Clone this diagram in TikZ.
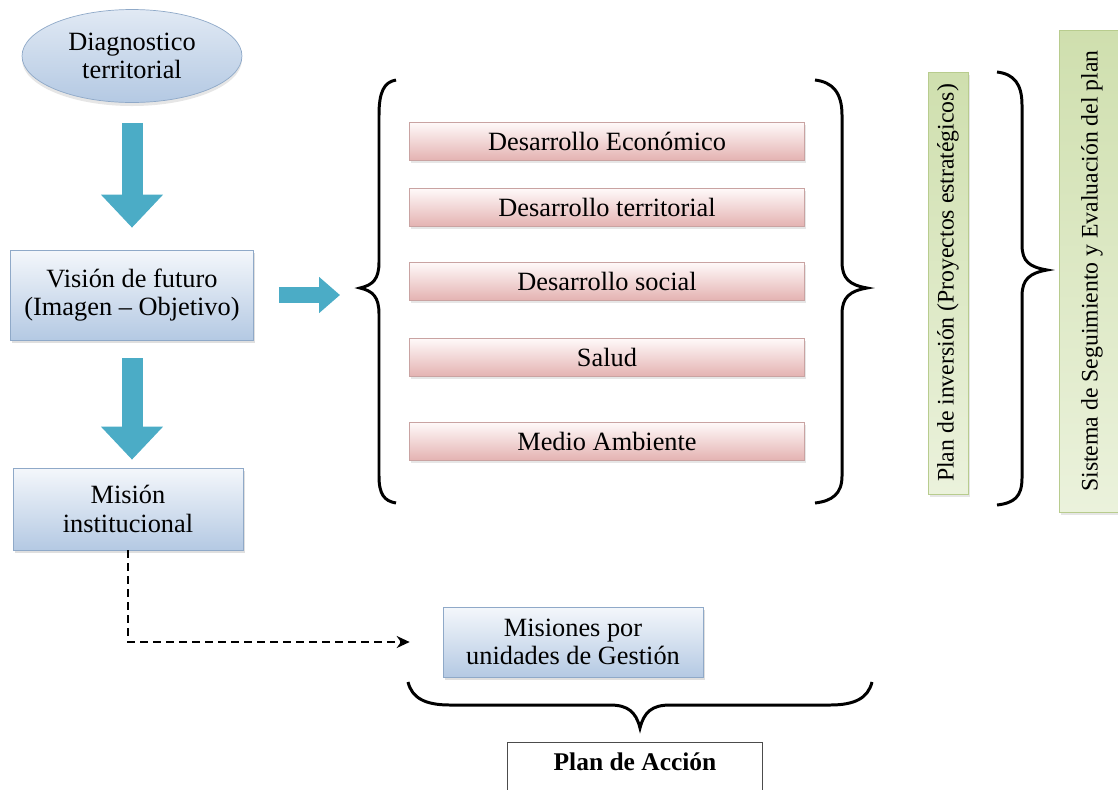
\documentclass[tikz,border=0pt]{standalone}
\usepackage{fontspec}
\setmainfont{Liberation Serif}
\usepackage{xcolor}
\usepackage{tikz}
\usetikzlibrary{shapes.geometric, arrows.meta, shadows}

\definecolor{arrowteal}{HTML}{4BACC6}
\definecolor{blueTop}{HTML}{F4F7FB}
\definecolor{blueBottom}{HTML}{B4C9E3}
\definecolor{blueEdge}{HTML}{8FA9C8}
\definecolor{redTop}{HTML}{FFFAFA}
\definecolor{redBottom}{HTML}{E4B3B2}
\definecolor{redEdge}{HTML}{C9A3A2}
\definecolor{greenDark}{HTML}{CFDFAE}
\definecolor{greenLight}{HTML}{EBF2DC}
\definecolor{greenEdge}{HTML}{B8CC8E}

\begin{document}
\begin{tikzpicture}[x=0.02cm, y=-0.02cm, >=Stealth]
    % Styles
    \tikzstyle{bluebox} = [rectangle, draw=blueEdge, top color=blueTop, bottom color=blueBottom, align=center, inner sep=0pt, font=\fontsize{15}{16}\selectfont, drop shadow={shadow xshift=1pt, shadow yshift=-1.5pt, opacity=0.25}]
    \tikzstyle{cloud} = [ellipse, draw=blueEdge, top color=blueTop!70!blueBottom, bottom color=blueBottom, align=center, inner sep=0pt, minimum width=4.4cm, minimum height=1.86cm, font=\fontsize{15}{16}\selectfont, drop shadow={shadow xshift=0pt, shadow yshift=-2pt, opacity=0.2}]
    \tikzstyle{redbox} = [rectangle, draw=redEdge, top color=redTop, bottom color=redBottom, inner sep=0pt, minimum width=7.9cm, minimum height=0.76cm, font=\fontsize{15}{16}\selectfont, drop shadow={shadow xshift=1pt, shadow yshift=-1.5pt, opacity=0.2}]
    \tikzstyle{greenbox} = [rectangle, draw=greenEdge, top color=greenDark, bottom color=greenLight, rotate=90, inner sep=0pt, font=\fontsize{13.5}{15}\selectfont, drop shadow={shadow xshift=1pt, shadow yshift=-1.5pt, opacity=0.2}]
    \tikzstyle{planbox} = [rectangle, draw=black!70, fill=white, minimum width=5.1cm, text height=0.46cm, text depth=1cm, inner ysep=0.1cm, font=\fontsize{14.5}{16}\selectfont]
    \tikzstyle{bigarrow} = [draw=arrowteal, line width=0.42cm, -{Triangle[length=0.66cm, width=1.2cm]}]
    \tikzstyle{dashline} = [draw, line width=1.2pt, dash pattern=on 0.16cm off 0.1cm, -{Stealth[length=0.26cm, width=0.24cm]}]
    \tikzstyle{curly} = [draw, line width=1.7pt]

    \useasboundingbox (0,0) rectangle (1118,789);

    % Nodes
    \node [cloud] (diag) at (132,56) {Diagnostico\\territorial};
    \node [bluebox, minimum width=4.86cm, minimum height=1.8cm] (vision) at (132,295) {Visión de futuro\\(Imagen – Objetivo)};
    \node [bluebox, minimum width=4.6cm, minimum height=1.64cm] (mision) at (128,509) {Misión\\institucional};
    \node [redbox] (economico) at (607,141) {Desarrollo Económico};
    \node [redbox] (territorial) at (607,207) {Desarrollo territorial};
    \node [redbox] (social) at (607,281) {Desarrollo social};
    \node [redbox] (salud) at (607,357) {Salud};
    \node [redbox] (ambiente) at (607,441) {Medio Ambiente};
    \node [greenbox, minimum width=8.44cm, minimum height=0.8cm] (inversion) at (948,283) {Plan de inversión (Proyectos estratégicos)};
    \node [greenbox, minimum width=9.64cm, minimum height=1.3cm] (seguimiento) at (1092,271) {Sistema de Seguimiento y Evaluación del plan};
    \node [bluebox, minimum width=5.2cm, minimum height=1.4cm] (misiones) at (573,642) {Misiones por\\unidades de Gestión};
    \node [planbox, anchor=north] (plan) at (635,742) {\textbf{Plan de Acción}};
    \coordinate (lbtip) at (360,296);

    % Braces
    \draw [curly] (396,80) .. controls (384,82) and (379,92) .. (379,115) -- (379,262) .. controls (379,279) and (373,285) .. (360,288) .. controls (373,291) and (379,297) .. (379,314) -- (379,476) .. controls (379,494) and (384,501) .. (396,503);
    \draw [curly] (815,80) .. controls (832,82) and (842,92) .. (842,115) -- (842,262) .. controls (842,279) and (850,285) .. (867,288) .. controls (850,291) and (842,297) .. (842,314) -- (842,476) .. controls (842,494) and (832,501) .. (815,503);
    \draw [curly] (997,72) .. controls (1014,74) and (1022,84) .. (1022,105) -- (1022,245) .. controls (1022,262) and (1030,267) .. (1047,270) .. controls (1030,273) and (1022,279) .. (1022,296) -- (1022,478) .. controls (1022,497) and (1014,503) .. (997,505);
    \draw [curly] (408,682) .. controls (412,698) and (425,705) .. (450,705) -- (610,705) .. controls (628,705) and (636,712) .. (640,728) .. controls (644,712) and (652,705) .. (670,705) -- (830,705) .. controls (855,705) and (868,698) .. (872,682);

    % Paths
    \path [bigarrow, shorten <=0.4cm, shorten >=0.44cm] (diag) -- (vision);
    \path [bigarrow, shorten <=0.36cm, shorten >=0.16cm] (vision) -- (vision |- mision.north);
    \path [draw=arrowteal, line width=0.32cm, -{Triangle[length=0.42cm, width=0.7cm]}, shorten <=0.5cm, shorten >=0.4cm] (vision.east) -- (vision.east -| lbtip);
    \path [dashline, shorten >=0.66cm] (mision.south) |- (misiones.west);
\end{tikzpicture}
\end{document}
